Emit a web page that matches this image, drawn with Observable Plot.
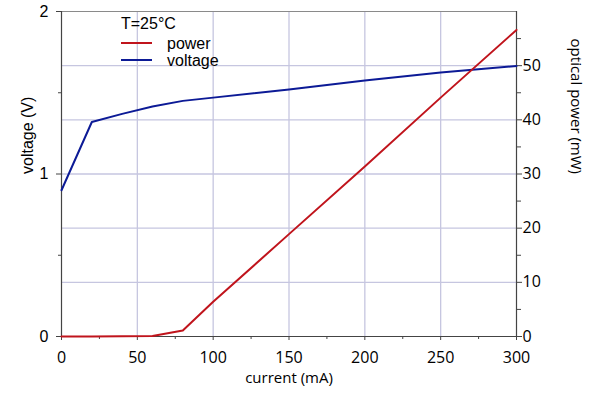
<!DOCTYPE html>
<html>
<head>
<meta charset="utf-8">
<script src="https://cdn.jsdelivr.net/npm/d3@7"></script>
<script src="https://cdn.jsdelivr.net/npm/@observablehq/plot@0.6"></script>
<style>
  html, body { margin: 0; padding: 0; background: #fff; }
  #chart { width: 600px; height: 396px; }
</style>
</head>
<body>
<div id="chart"></div>
<script>
// ---- data ----
const current = [0, 20, 40, 60, 80, 100, 150, 200, 250, 300];           // mA
const voltage = [0.90, 1.32, 1.37, 1.415, 1.45, 1.47, 1.52, 1.575, 1.625, 1.665]; // V
const power   = [0, 0, 0.03, 0.08, 1.1, 6.4, 18.9, 31.4, 44.1, 56.6];   // mW
const seriesNames = ["power", "voltage"];
const seriesColors = ["#c0141c", "#0c1a96"];
const legendTitle = "T=25°C";
const xTicks = [0, 50, 100, 150, 200, 250, 300];
const xMinorTicks = [25, 75, 125, 175, 225, 275];
const leftTicks = [0, 1, 2];
const leftMinorTicks = [0.5, 1.5];
const rightTicks = [0, 10, 20, 30, 40, 50];
const rightMinorTicks = [5, 15, 25, 35, 45, 55];
const powerMax = 60; // right axis spans 0..60 mW while left spans 0..2 V
const voltMax = 2;

// ---- build ----
const k = voltMax / powerMax;
const voltRows = current.map((c, i) => ({c, v: voltage[i]}));
const powRows = current.map((c, i) => ({c, v: power[i] * k}));

const grid = "#c6c6e0";
const axisColor = "#444";
const sansA = "Liberation Sans, Arial, sans-serif";
const sansB = "Open Sans, sans-serif";
const blank = () => "";

const legendMark = (index, scales, values, dims) => {
  const g = d3.create("svg:g").attr("text-anchor", "start");
  const x0 = dims.marginLeft + 60, x1 = x0 + 31;
  const ys = [dims.marginTop + 32, dims.marginTop + 49];
  g.append("text").attr("x", x0).attr("y", dims.marginTop + 12)
    .attr("dy", "0.35em").attr("font-family", sansA).attr("font-size", 16)
    .attr("fill", "#000").text(legendTitle);
  seriesNames.forEach((n, i) => {
    g.append("line").attr("x1", x0).attr("x2", x1).attr("y1", ys[i]).attr("y2", ys[i])
      .attr("stroke", seriesColors[i]).attr("stroke-width", 2);
    g.append("text").attr("x", x0 + 46).attr("y", ys[i]).attr("dy", "0.35em")
      .attr("font-family", sansA).attr("font-size", 16).attr("fill", "#000").text(n);
  });
  return g.node();
};

const chart = Plot.plot({
  width: 600,
  height: 396,
  marginLeft: 61,
  marginRight: 84,
  marginTop: 11,
  marginBottom: 60,
  x: {domain: [0, 300]},
  y: {domain: [0, voltMax]},
  style: {background: "#fff", color: "#000"},
  marks: [
    // grid
    Plot.ruleX(xTicks.slice(1, -1), {stroke: grid, strokeWidth: 1.3}),
    Plot.ruleY(rightTicks.slice(1).map(d => d * k), {stroke: grid, strokeWidth: 1.3}),
    Plot.ruleY([voltMax], {stroke: "#8a8a8a", strokeWidth: 1}),
    // axes lines
    Plot.ruleX([0], {stroke: axisColor, strokeWidth: 1.2}),
    Plot.ruleX([300], {stroke: axisColor, strokeWidth: 1.2}),
    Plot.ruleY([0], {stroke: axisColor, strokeWidth: 1.2}),
    // x axis
    Plot.axisX({ticks: xTicks, tickSize: 4, tickPadding: 11, stroke: axisColor,
      fontFamily: sansB, fontSize: 16, label: null}),
    Plot.axisX({ticks: xMinorTicks, tickSize: 3, tickFormat: blank, stroke: axisColor, label: null}),
    // left axis
    Plot.axisY({ticks: leftTicks, tickSize: 5, tickPadding: 8, stroke: axisColor,
      fontFamily: sansA, fontSize: 16, label: null, tickFormat: d => String(d)}),
    Plot.axisY({ticks: leftMinorTicks, tickSize: 3, tickFormat: blank, stroke: axisColor, label: null}),
    // right axis
    Plot.axisY({anchor: "right", ticks: rightTicks.map(d => d * k), tickSize: 5, tickPadding: 1,
      stroke: axisColor, fontFamily: sansB, fontSize: 16, label: null,
      tickFormat: d => String(Math.round(d / k))}),
    Plot.axisY({anchor: "right", ticks: rightMinorTicks.map(d => d * k), tickSize: 4,
      tickFormat: blank, stroke: axisColor, label: null}),
    // axis labels
    Plot.text(["current (mA)"], {frameAnchor: "bottom", dy: 42, fontFamily: sansB, fontSize: 15, lineAnchor: "middle"}),
    Plot.text(["voltage (V)"], {frameAnchor: "left", dx: -34, rotate: -90, fontFamily: sansA, fontSize: 16, lineAnchor: "middle"}),
    Plot.text(["optical power (mW)"], {frameAnchor: "right", dx: 59, rotate: 90, fontFamily: sansB, fontSize: 15, lineAnchor: "middle"}),
    // data lines
    Plot.line(voltRows, {x: "c", y: "v", stroke: seriesColors[1], strokeWidth: 2}),
    Plot.line(powRows, {x: "c", y: "v", stroke: seriesColors[0], strokeWidth: 2}),
    // legend
    legendMark
  ]
});
document.getElementById("chart").append(chart);
</script>
</body>
</html>
